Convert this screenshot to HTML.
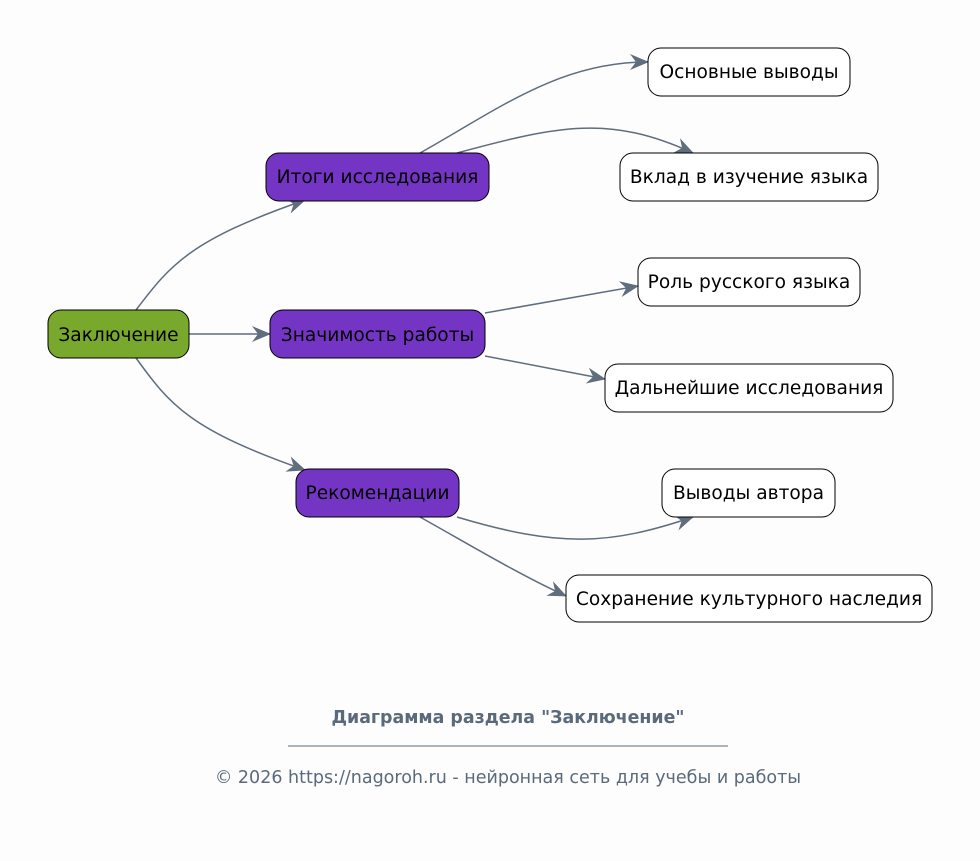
<!DOCTYPE html>
<html><head><meta charset="utf-8"><style>
body{margin:0;background:#fdfdfd;}
svg{display:block;font-family:"DejaVu Sans","Liberation Sans",sans-serif;}
</style></head><body>
<svg width="980" height="861" viewBox="0 0 980 861">
<defs>
<marker id="a" viewBox="0 0 20 20" refX="18" refY="10" markerWidth="20" markerHeight="20" markerUnits="userSpaceOnUse" orient="auto">
<path d="M0,2 L19,10 L0,18 L6,10 Z" fill="#5f6d7c"/>
</marker>
</defs>
<g fill="none" stroke="#5f6d7c" stroke-width="1.5" marker-end="url(#a)">
<path d="M136,310 C170,265 190,240 305,200"/>
<path d="M189,334 L270,334"/>
<path d="M136,358 C170,405 190,430 305,470"/>
<path d="M420,153 C500,108 560,62 648,62"/>
<path d="M457,153 C560,125 610,115 693,153"/>
<path d="M485,313 L638,286"/>
<path d="M485,356 L605,379"/>
<path d="M457,517 C560,548 610,545 693,517"/>
<path d="M420,517 C470,545 520,575 566,596"/>
</g>
<g stroke="#000" stroke-width="1">
<rect x="48" y="310" width="141" height="48" rx="13" fill="#79a92c"/>
<rect x="266" y="153" width="223" height="48" rx="13" fill="#7535c4"/>
<rect x="270" y="310" width="215" height="48" rx="13" fill="#7535c4"/>
<rect x="296" y="469" width="163" height="48" rx="13" fill="#7535c4"/>
<rect x="648" y="48" width="202" height="48" rx="13" fill="#fff"/>
<rect x="620" y="153" width="258" height="48" rx="13" fill="#fff"/>
<rect x="638" y="258" width="222" height="48" rx="13" fill="#fff"/>
<rect x="605" y="364" width="288" height="48" rx="13" fill="#fff"/>
<rect x="662" y="469" width="173" height="48" rx="13" fill="#fff"/>
<rect x="566" y="575" width="366" height="47" rx="13" fill="#fff"/>
</g>
<g font-size="18.6" fill="#000" text-anchor="middle">
<text x="118.5" y="341">Заключение</text>
<text x="377.5" y="183">Итоги исследования</text>
<text x="377.5" y="341">Значимость работы</text>
<text x="377.5" y="499">Рекомендации</text>
<text x="749" y="78">Основные выводы</text>
<text x="749" y="183">Вклад в изучение языка</text>
<text x="749" y="288">Роль русского языка</text>
<text x="749" y="394">Дальнейшие исследования</text>
<text x="748.5" y="499">Выводы автора</text>
<text x="749" y="605">Сохранение культурного наследия</text>
</g>
<text x="508" y="723" font-size="17.4" font-weight="bold" fill="#5a6a7a" text-anchor="middle">Диаграмма раздела "Заключение"</text>
<line x1="288" y1="746" x2="728" y2="746" stroke="#5a6a7a" stroke-width="1"/>
<text x="508" y="783" font-size="17.5" fill="#5a6a7a" text-anchor="middle">© 2026 https://nagoroh.ru - нейронная сеть для учебы и работы</text>
</svg>
</body></html>
